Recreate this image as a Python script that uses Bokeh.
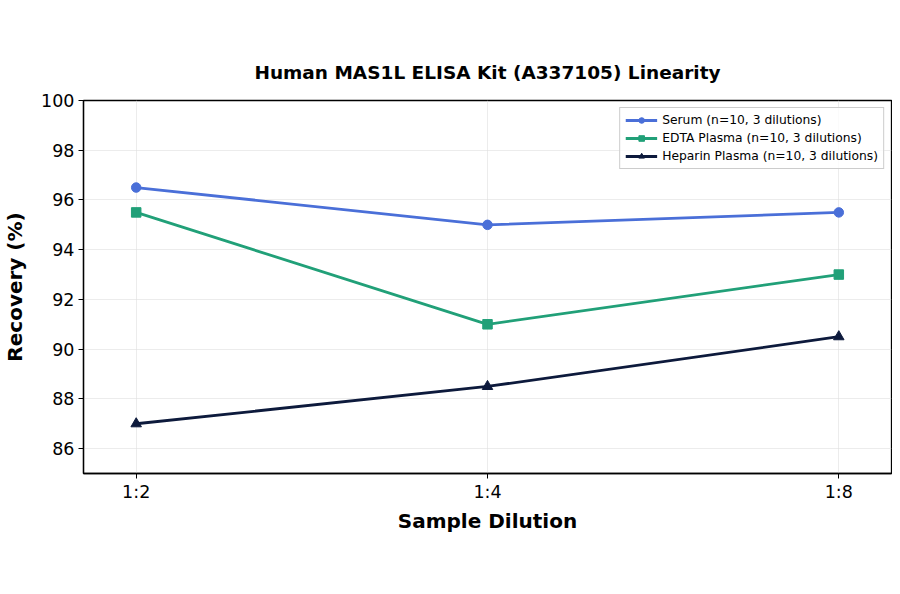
from bokeh.plotting import figure
from bokeh.embed import file_html
from bokeh.resources import INLINE
from bokeh.models import FixedTicker, Legend, LegendItem

dilutions = ["1:2", "1:4", "1:8"]
serum = [96.5, 95.0, 95.5]
edta = [95.5, 91.0, 93.0]
heparin = [87.0, 88.5, 90.5]
y_ticks = [86, 88, 90, 92, 94, 96, 98, 100]

xs = list(range(len(dilutions)))

p = figure(width=892, height=586, output_backend="svg", toolbar_location=None,
           x_range=(-0.15, 2.15), y_range=(85, 100),
           title="Human MAS1L ELISA Kit (A337105) Linearity",
           min_border_left=82, min_border_right=1, min_border_top=100, min_border_bottom=113)

p.title.text_font = "DejaVu Sans"
p.title.text_font_size = "18.5px"
p.title.text_font_style = "bold"
p.title.text_color = "black"
p.title.align = "center"
p.title.offset = 0
p.title.standoff = 36

p.outline_line_color = "black"
p.outline_line_width = 1.3
p.background_fill_color = "white"
p.border_fill_color = "white"

p.xaxis.ticker = FixedTicker(ticks=xs)
p.xaxis.major_label_overrides = {i: d for i, d in enumerate(dilutions)}
p.yaxis.ticker = FixedTicker(ticks=y_ticks)

for ax in (p.xaxis, p.yaxis):
    ax.axis_line_color = "black"
    ax.axis_line_width = 1.3
    ax.major_tick_line_color = "black"
    ax.major_tick_in = 0
    ax.major_tick_out = 5
    ax.minor_tick_line_color = None
    ax.major_label_text_font = "DejaVu Sans"
    ax.major_label_text_font_size = "17.5px"
    ax.major_label_text_color = "black"
    ax.axis_label_text_font = "DejaVu Sans"
    ax.axis_label_text_font_size = "20px"
    ax.axis_label_text_font_style = "bold"
    ax.axis_label_text_color = "black"

p.xaxis.axis_label = "Sample Dilution"
p.yaxis.axis_label = "Recovery (%)"
p.xaxis.major_label_standoff = 3
p.xaxis.axis_label_standoff = 4
p.yaxis.major_label_standoff = 4
p.yaxis.axis_label_standoff = 11

p.grid.grid_line_color = "#dddddd"
p.grid.grid_line_alpha = 0.7
p.grid.grid_line_width = 0.8

items = []
l1 = p.line(xs, serum, color="#4A6FD8", line_width=2.8)
m1 = p.scatter(xs, serum, marker="circle", size=9.5, color="#4A6FD8")
items.append(LegendItem(label="Serum (n=10, 3 dilutions)", renderers=[l1, m1]))
l2 = p.line(xs, edta, color="#21A078", line_width=2.8)
m2 = p.scatter(xs, edta, marker="square", size=9.5, color="#21A078")
items.append(LegendItem(label="EDTA Plasma (n=10, 3 dilutions)", renderers=[l2, m2]))
l3 = p.line(xs, heparin, color="#0D1A3C", line_width=2.8)
m3 = p.scatter(xs, heparin, marker="triangle", size=10.5, color="#0D1A3C")
items.append(LegendItem(label="Heparin Plasma (n=10, 3 dilutions)", renderers=[l3, m3]))

legend = Legend(items=items, location="top_right")
legend.label_text_font = "DejaVu Sans"
legend.label_text_font_size = "12.3px"
legend.label_text_color = "black"
legend.label_height = 14
legend.glyph_height = 14
legend.glyph_width = 32
legend.spacing = 4
legend.padding = 5
legend.margin = 7
legend.border_line_color = "#cccccc"
legend.border_line_width = 1
legend.border_line_alpha = 1
legend.background_fill_alpha = 0.8
p.add_layout(legend)

open("out.html", "w").write(file_html(p, INLINE))
